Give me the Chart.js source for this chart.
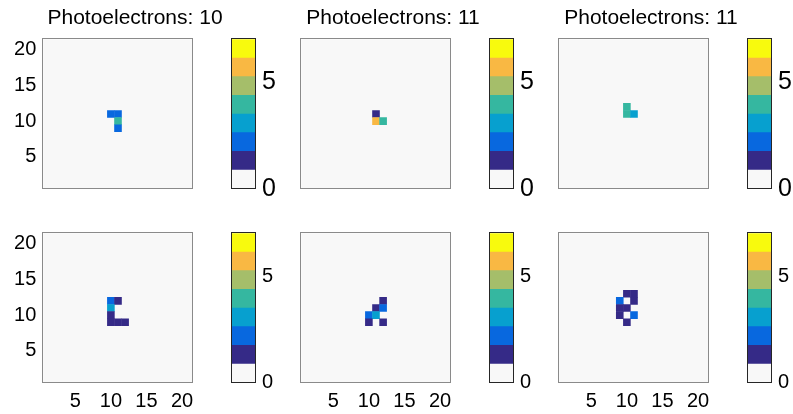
<!DOCTYPE html>
<html>
<head>
<meta charset="utf-8">
<script src="https://cdn.jsdelivr.net/npm/chart.js@4"></script>
<style>
  body { margin: 0; background: #fff; }
  #fig { position: relative; width: 793px; height: 414px; overflow: hidden; }
  canvas { position: absolute; }
</style>
</head>
<body>
<div id="fig"></div>
<script>
const titles = ['Photoelectrons: 10', 'Photoelectrons: 11', 'Photoelectrons: 11'];

// pixel hits per panel: [column, row, count]
const cells1 = [[10, 11, 2], [11, 11, 2], [11, 10, 4], [11, 9, 2]];
const cells2 = [[11, 11, 1], [11, 10, 6], [12, 10, 4]];
const cells3 = [[10, 12, 4], [10, 11, 4], [11, 11, 3]];
const cells4 = [[10, 12, 2], [11, 12, 1], [10, 11, 3], [10, 10, 1], [10, 9, 1], [11, 9, 1], [12, 9, 1]];
const cells5 = [[12, 12, 1], [11, 11, 1], [12, 11, 2], [10, 10, 2], [11, 10, 3], [10, 9, 1], [12, 9, 1]];
const cells6 = [[10, 13, 1], [11, 13, 1], [9, 12, 2], [11, 12, 1], [9, 11, 1], [10, 11, 1], [9, 10, 1], [11, 10, 2], [10, 9, 1]];
const panels = [cells1, cells2, cells3, cells4, cells5, cells6];

const gridTicks = [5, 10, 15, 20];
const cbarTicks = [0, 5];
const cmap = ['#f8f8f8', '#352a87', '#0868df', '#07a0cf', '#35b7a0', '#a5be6a', '#f9b843', '#f8fa0d'];
const cmax = 7;

Chart.defaults.font.family = '"Liberation Sans", Arial, sans-serif';
Chart.defaults.color = '#000';

const colX = [0, 258, 516];
const rowY = [0, 194];
const fig = document.getElementById('fig');

function addCanvas(left, top, w, h) {
  const c = document.createElement('canvas');
  c.width = w; c.height = h;
  c.style.left = left + 'px'; c.style.top = top + 'px';
  c.style.width = w + 'px'; c.style.height = h + 'px';
  fig.appendChild(c);
  return c;
}

// fixed axis size, no extra label padding
const fixed = (w, h) => s => {
  if (w != null) s.width = w;
  if (h != null) s.height = h;
  s.paddingTop = s.paddingBottom = s.paddingLeft = s.paddingRight = 0;
};

const frame = {
  id: 'frame',
  beforeDatasetsDraw(chart, args, opts) {
    if (!opts.fill) return;
    const a = chart.chartArea, ctx = chart.ctx;
    ctx.save();
    ctx.fillStyle = opts.fill;
    ctx.fillRect(a.left, a.top, a.width, a.height);
    ctx.restore();
  },
  afterDatasetsDraw(chart, args, opts) {
    const a = chart.chartArea, ctx = chart.ctx;
    ctx.save();
    ctx.strokeStyle = opts.color;
    ctx.lineWidth = 1;
    ctx.strokeRect(Math.round(a.left) - 0.5, Math.round(a.top) - 0.5, Math.round(a.width) + 1, Math.round(a.height) + 1);
    ctx.restore();
  }
};

function heatmap(i) {
  const col = i % 3, row = Math.floor(i / 3);
  const cv = addCanvas(colX[col], rowY[row], 270, 220);
  new Chart(cv, {
    type: 'scatter',
    data: {
      datasets: [{
        data: panels[i].map(c => ({ x: c[0], y: c[1], v: c[2] })),
        pointStyle: 'rect',
        pointBorderWidth: 0,
        pointBackgroundColor: ctx => cmap[ctx.raw ? ctx.raw.v : 0],
        pointRadius: ctx => {
          const s = ctx.chart.scales.x;
          return (Math.abs(s.getPixelForValue(1) - s.getPixelForValue(0)) + 0.5) / Math.SQRT2;
        }
      }]
    },
    options: {
      responsive: false,
      animation: false,
      events: [],
      layout: { padding: { top: row ? 39.3 : 0, left: 0, right: 0, bottom: 0 } },
      plugins: {
        legend: { display: false },
        tooltip: { enabled: false },
        title: {
          display: row === 0,
          text: titles[col],
          font: { size: 21, weight: 'normal' },
          color: '#000',
          padding: { top: 6, bottom: 8.1 }
        },
        frame: { fill: cmap[0], color: '#8a8a8a' }
      },
      scales: {
        x: {
          type: 'linear', min: 0.5, max: 21.5,
          grid: { display: false, drawTicks: false },
          border: { display: false },
          afterBuildTicks: s => { s.ticks = gridTicks.map(v => ({ value: v })); },
          ticks: { display: row === 1, font: { size: 20 }, padding: 7, autoSkip: false, maxRotation: 0 },
          afterFit: fixed(null, 31.3)
        },
        y: {
          type: 'linear', min: 0.5, max: 21.5,
          grid: { display: false, drawTicks: false },
          border: { display: false },
          afterBuildTicks: s => { s.ticks = gridTicks.map(v => ({ value: v })); },
          ticks: { display: col === 0, font: { size: 20 }, padding: 7, autoSkip: false },
          afterFit: fixed(43.3, null)
        },
        r: {
          type: 'linear', position: 'right',
          ticks: { display: false },
          grid: { display: false, drawTicks: false },
          border: { display: false },
          afterFit: fixed(77.3, null)
        }
      }
    },
    plugins: [frame]
  });
}

function colorbar(i) {
  const col = i % 3, row = Math.floor(i / 3);
  const cv = addCanvas(colX[col] + 230, rowY[row], 70, 220);
  const band = cmax / cmap.length;
  new Chart(cv, {
    type: 'bar',
    data: {
      labels: [''],
      datasets: cmap.map(c => ({
        data: [band], backgroundColor: c, borderWidth: 0,
        barPercentage: 1, categoryPercentage: 1
      }))
    },
    options: {
      responsive: false,
      animation: false,
      events: [],
      layout: { padding: { left: 2, top: 39.3, right: 0, bottom: 31.3 } },
      plugins: {
        legend: { display: false },
        tooltip: { enabled: false },
        frame: { color: '#262626' }
      },
      scales: {
        x: { stacked: true, display: false },
        y: {
          stacked: true, position: 'right', min: 0, max: cmax,
          grid: { display: false, drawTicks: false },
          border: { display: false },
          afterBuildTicks: s => { s.ticks = cbarTicks.map(v => ({ value: v })); },
          ticks: { font: { size: row ? 20 : 25 }, padding: 7 },
          afterFit: fixed(45, null)
        }
      }
    },
    plugins: [frame]
  });
}

for (let i = 0; i < 6; i++) {
  heatmap(i);
  colorbar(i);
}
</script>
</body>
</html>
